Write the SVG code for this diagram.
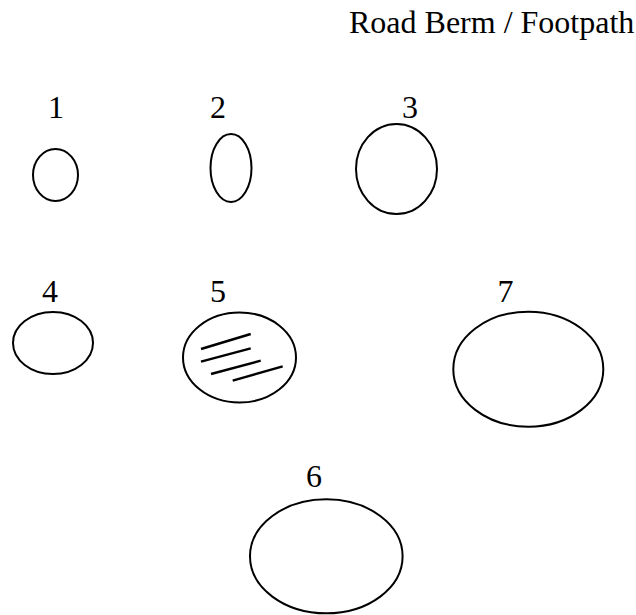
<svg xmlns="http://www.w3.org/2000/svg" width="636" height="615" viewBox="0 0 636 615">
<style>
text{font-family:"Liberation Serif","Times New Roman",serif;font-size:32px;fill:#000}
.lbl{text-anchor:middle}
ellipse{fill:none;stroke:#000;stroke-width:2}
line{stroke:#000;stroke-width:2.4;stroke-linecap:butt}
</style>
<rect width="636" height="615" fill="#fff"/>
<text id="title" x="349" y="33">Road Berm / Footpath</text>
<g id="node1"><text class="lbl" x="56" y="118">1</text><ellipse cx="55.5" cy="175" rx="22.5" ry="26"/></g>
<g id="node2"><text class="lbl" x="218" y="118">2</text><ellipse cx="231" cy="168" rx="20.5" ry="34"/></g>
<g id="node3"><text class="lbl" x="410" y="118">3</text><ellipse cx="396.5" cy="169" rx="40.5" ry="45"/></g>
<g id="node4"><text class="lbl" x="50" y="302">4</text><ellipse cx="53" cy="343" rx="40" ry="31"/></g>
<g id="node5"><text class="lbl" x="218" y="302">5</text><ellipse cx="239.5" cy="357.5" rx="56.5" ry="45"/>
<line x1="201" y1="349" x2="250.7" y2="334"/>
<line x1="201" y1="361.7" x2="250.7" y2="348.3"/>
<line x1="211" y1="374" x2="260.7" y2="360.7"/>
<line x1="232.7" y1="380.7" x2="282.7" y2="366.3"/>
</g>
<g id="node7"><text class="lbl" x="505.5" y="302">7</text><ellipse cx="528.3" cy="369.2" rx="75" ry="57.5"/></g>
<g id="node6"><text class="lbl" x="314" y="487">6</text><ellipse cx="326.3" cy="556.3" rx="76.3" ry="57"/></g>
<g id="connectors"/>
</svg>
